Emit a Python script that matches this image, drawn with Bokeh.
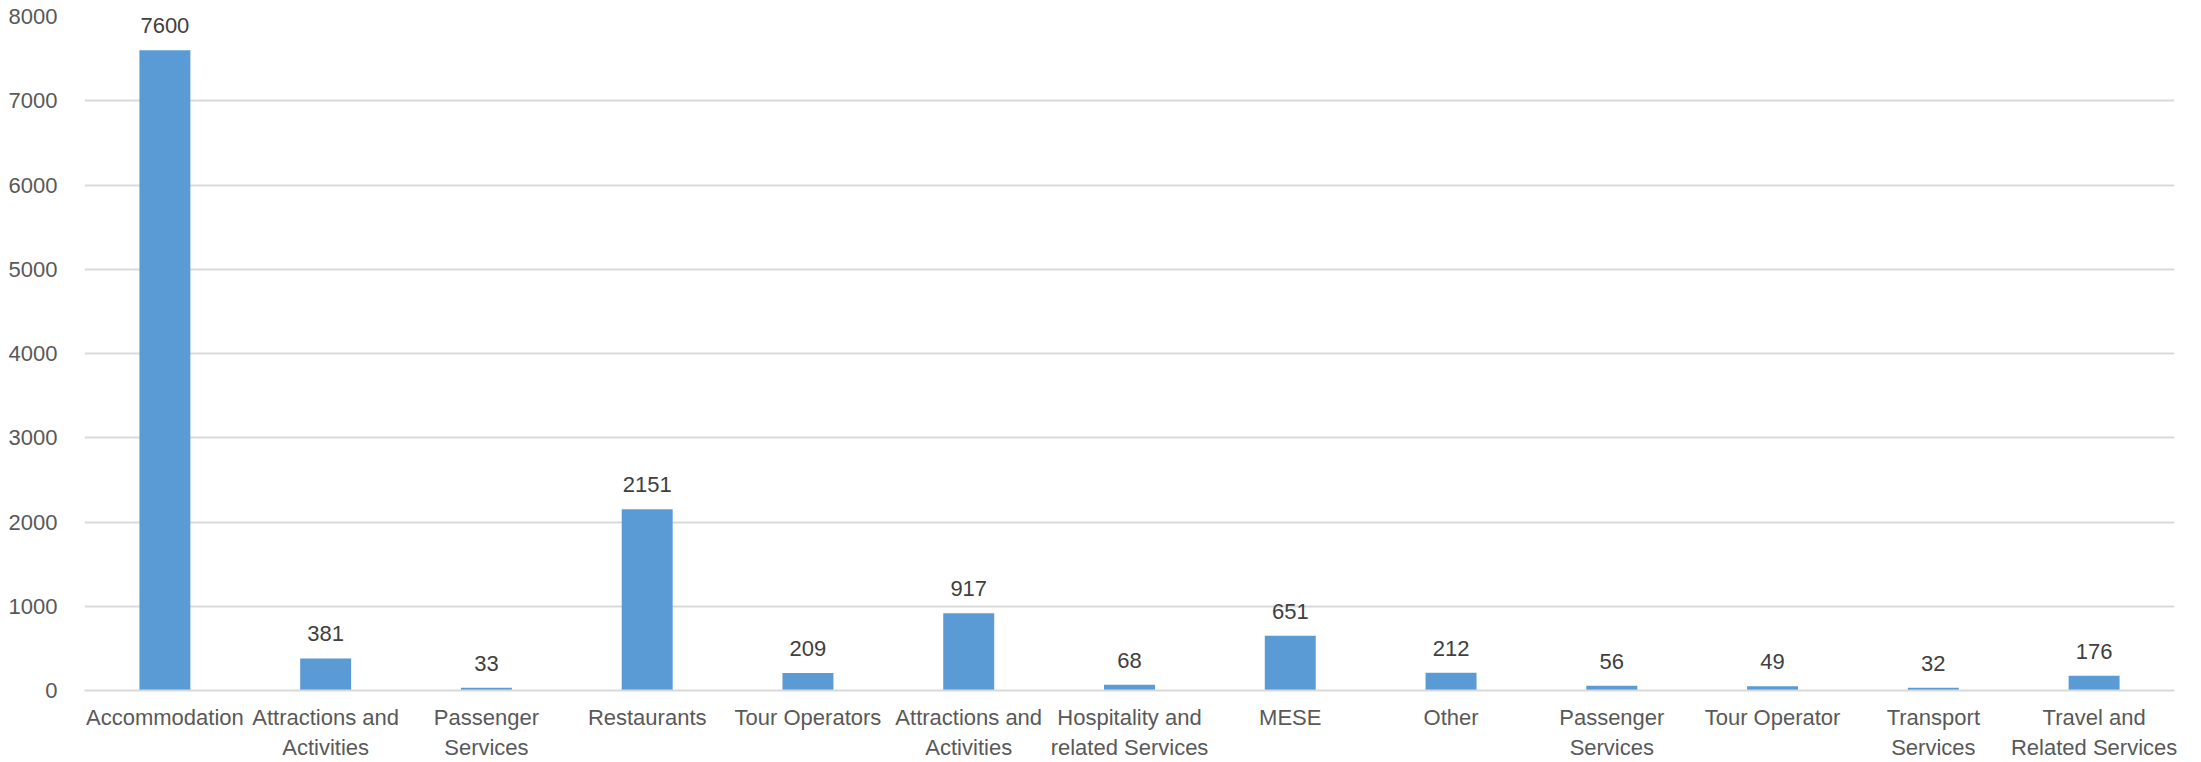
from bokeh.plotting import figure
from bokeh.models import ColumnDataSource, Range1d, FixedTicker
from bokeh.core.properties import value
from bokeh.embed import file_html
from bokeh.resources import INLINE

labels = ["Accommodation", "Attractions and\nActivities", "Passenger\nServices",
          "Restaurants", "Tour Operators", "Attractions and\nActivities",
          "Hospitality and\nrelated Services", "MESE", "Other", "Passenger\nServices",
          "Tour Operator", "Transport\nServices", "Travel and\nRelated Services"]
counts = [7600, 381, 33, 2151, 209, 917, 68, 651, 212, 56, 49, 32, 176]
y_ticks = [0, 1000, 2000, 3000, 4000, 5000, 6000, 7000, 8000]

FONT = "Liberation Sans"

xs = list(range(len(labels)))
src = ColumnDataSource(dict(x=xs, y=counts, t=[str(c) for c in counts]))

p = figure(width=2201, height=762, x_range=Range1d(-0.5, len(labels) - 0.5),
           y_range=Range1d(0, 8000), output_backend="svg", toolbar_location=None,
           min_border_left=84, min_border_right=27, min_border_top=16, min_border_bottom=72)
p.outline_line_color = None
p.background_fill_color = "white"
p.border_fill_color = "white"

p.vbar(x="x", top="y", width=0.317, source=src, fill_color="#5B9BD5", line_color=None)
p.text(x="x", y="y", text="t", source=src, text_align="center", text_baseline="bottom",
       y_offset=-17, text_font=value(FONT), text_font_size="22px", text_color="#404040")

p.xaxis.ticker = FixedTicker(ticks=xs)
p.xaxis.major_label_overrides = {i: l for i, l in zip(xs, labels)}
p.xaxis.major_label_text_font = FONT
p.xaxis.major_label_text_font_size = "22px"
p.xaxis.major_label_text_color = "#595959"
p.xaxis.major_label_standoff = 8
p.xaxis.major_tick_line_color = None
p.xaxis.minor_tick_line_color = None
p.xaxis.axis_line_color = "#D9D9D9"
p.xaxis.axis_line_width = 2
p.xgrid.grid_line_color = None

p.yaxis.ticker = y_ticks
p.yaxis.major_label_text_font = FONT
p.yaxis.major_label_text_font_size = "22px"
p.yaxis.major_label_text_color = "#595959"
p.yaxis.major_label_standoff = 21
p.yaxis.major_tick_line_color = None
p.yaxis.minor_tick_line_color = None
p.yaxis.axis_line_color = None
p.ygrid.ticker = y_ticks
p.ygrid.grid_line_color = "#D9D9D9"
p.ygrid.grid_line_width = 2

open("out.html", "w").write(file_html(p, INLINE))
